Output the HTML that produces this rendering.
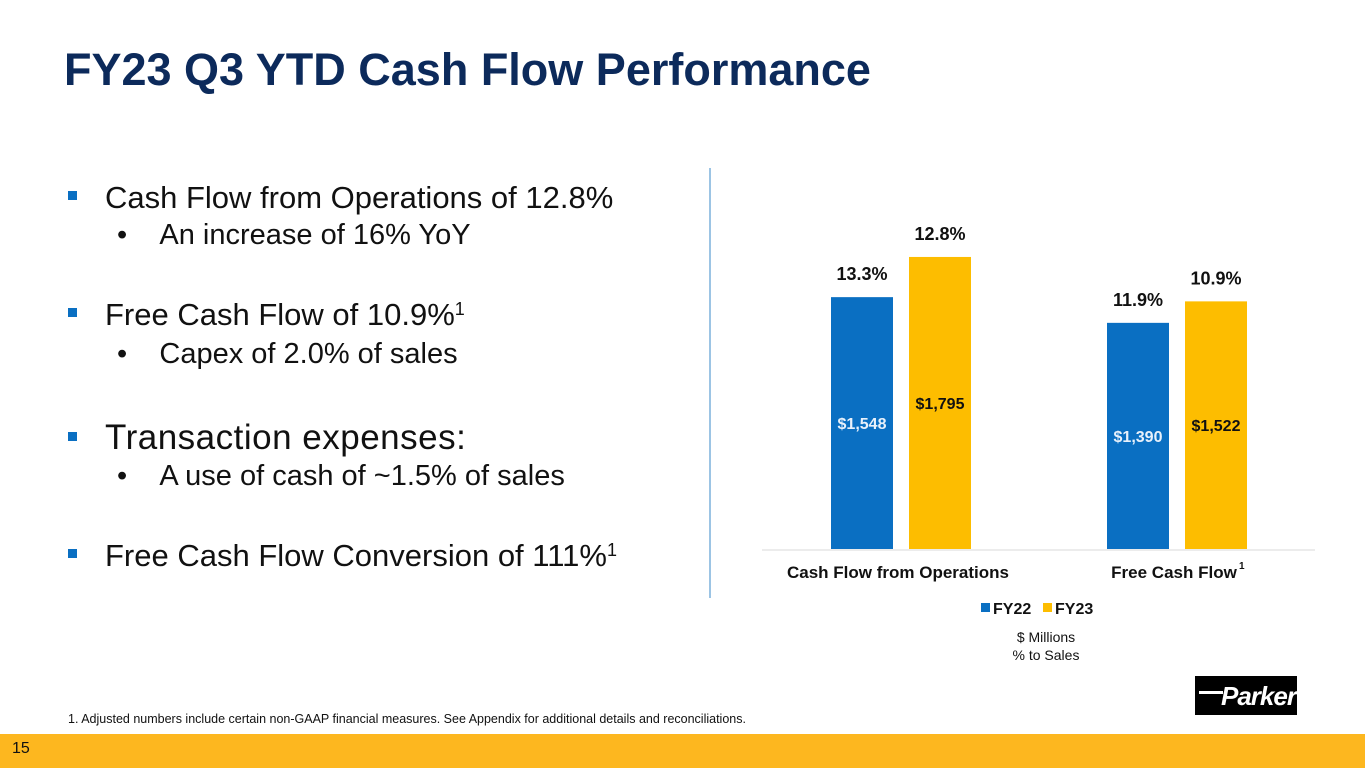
<!DOCTYPE html>
<html><head><meta charset="utf-8"><style>
body{margin:0;width:1365px;height:768px;position:relative;background:#fff;font-family:"Liberation Sans",Arial,sans-serif;overflow:hidden}
.abs{position:absolute}
#title{left:64px;top:44px;font-size:45px;font-weight:bold;color:#0c2a5b;white-space:nowrap}
.b1{left:68px;font-size:31px;color:#111;white-space:nowrap}
.b1 .sq{position:absolute;left:0;top:11px;width:9px;height:9px;background:#0a6fc2}
.b1 span.t{position:absolute;left:37px;top:0}
.b2{left:117px;font-size:29px;color:#111;white-space:nowrap}
sup{font-size:18px;vertical-align:10px;line-height:0}
</style></head><body>
<div id="title" class="abs">FY23 Q3 YTD Cash Flow Performance</div>

<div class="abs b1" style="top:180px"><div class="sq"></div><span class="t">Cash Flow from Operations of 12.8%</span></div>
<div class="abs b2" style="top:219px">•&nbsp;&nbsp;&nbsp;&nbsp;An increase of 16% YoY</div>
<div class="abs b1" style="top:297px"><div class="sq"></div><span class="t">Free Cash Flow of 10.9%<sup>1</sup></span></div>
<div class="abs b2" style="top:338px">•&nbsp;&nbsp;&nbsp;&nbsp;Capex of 2.0% of sales</div>
<div class="abs b1" style="top:418px;font-size:35px;letter-spacing:0.5px"><div class="sq" style="top:14px"></div><span class="t">Transaction expenses:</span></div>
<div class="abs b2" style="top:460px">•&nbsp;&nbsp;&nbsp;&nbsp;A use of cash of ~1.5% of sales</div>
<div class="abs b1" style="top:538px"><div class="sq"></div><span class="t">Free Cash Flow Conversion of 111%<sup>1</sup></span></div>

<div class="abs" style="left:709px;top:168px;width:2px;height:430px;background:#9cc4e4"></div>

<svg class="abs" style="left:0;top:0" width="1365" height="768" id="chart"></svg>

<div class="abs" style="left:1195px;top:676px;width:102px;height:39px;background:#000">
<div class="abs" style="left:4px;top:15px;width:24px;height:3px;background:#fff"></div>
<div class="abs" style="left:26px;top:5px;font-size:26px;font-weight:bold;color:#fff;font-style:italic;letter-spacing:-1px">Parker</div>
</div>

<div class="abs" style="left:68px;top:712px;font-size:12.5px;color:#111;white-space:nowrap">1. Adjusted numbers include certain non-GAAP financial measures. See Appendix for additional details and reconciliations.</div>
<div class="abs" style="left:0;top:734px;width:1365px;height:34px;background:#fdb71f"></div>
<div class="abs" style="left:12px;top:740px;font-size:16px;color:#111">15</div>

<script>
const categories=["Cash Flow from Operations","Free Cash Flow"];
const fy22Values=[1548,1390];
const fy23Values=[1795,1522];
const fy22Pct=["13.3%","11.9%"];
const fy23Pct=["12.8%","10.9%"];
const seriesNames=["FY22","FY23"];
const NS="http://www.w3.org/2000/svg";
const svg=document.getElementById('chart');
const baseY=549, scale=0.1627;
function y(v){return baseY-v*scale;}
function groupX(i){return 831+i*276;}
function mk(tag,attrs,txt){const e=document.createElementNS(NS,tag);for(const k in attrs)e.setAttribute(k,attrs[k]);if(txt!=null)e.textContent=txt;svg.appendChild(e);return e;}
const axis=mk('line',{x1:762,x2:1315,y1:550,y2:550,stroke:'#d9d9d9','stroke-width':1});


const series=[{vals:fy22Values,pct:fy22Pct,color:'#0a6fc2',tc:'#e8f1fb',off:0},{vals:fy23Values,pct:fy23Pct,color:'#fdbd00',tc:'#111',off:78}];
categories.forEach((c,i)=>{
  series.forEach((s,j)=>{
    const x=groupX(i)+s.off, top=y(s.vals[i]);
    const r=mk('rect',{x:x,y:top,width:62,height:baseY-top,fill:s.color});
    
    
    const vl=mk('text',{x:x+31,y:(top+baseY)/2+6,'text-anchor':'middle','font-size':16,'font-weight':'bold',fill:s.tc},'$'+s.vals[i].toLocaleString('en-US'));
    
    
    const pl=mk('text',{x:x+31,y:top-17,'text-anchor':'middle','font-size':18,'font-weight':'bold',fill:'#111'},s.pct[i]);
    
    
  });
  const cl=mk('text',{x:groupX(i)+67,y:578,'text-anchor':'middle','font-size':17,'font-weight':'bold',fill:'#111'},c);
  
  
});
const sup=mk('text',{x:1239,y:569,'font-size':10,'font-weight':'bold',fill:'#111'},'1');


[[981,'#0a6fc2',0],[1043,'#fdbd00',1]].forEach(([lx,col,k])=>{
  const sw=mk('rect',{x:lx,y:603,width:9,height:9,fill:col});
  
  
  const t=mk('text',{x:lx+12,y:614,'font-size':16,'font-weight':'bold',fill:'#111'},seriesNames[k]);
  
  
});
const u1=mk('text',{x:1046,y:642,'text-anchor':'middle','font-size':14,fill:'#111'},'$ Millions');


const u2=mk('text',{x:1046,y:660,'text-anchor':'middle','font-size':14,fill:'#111'},'% to Sales');


</script>
</body></html>
